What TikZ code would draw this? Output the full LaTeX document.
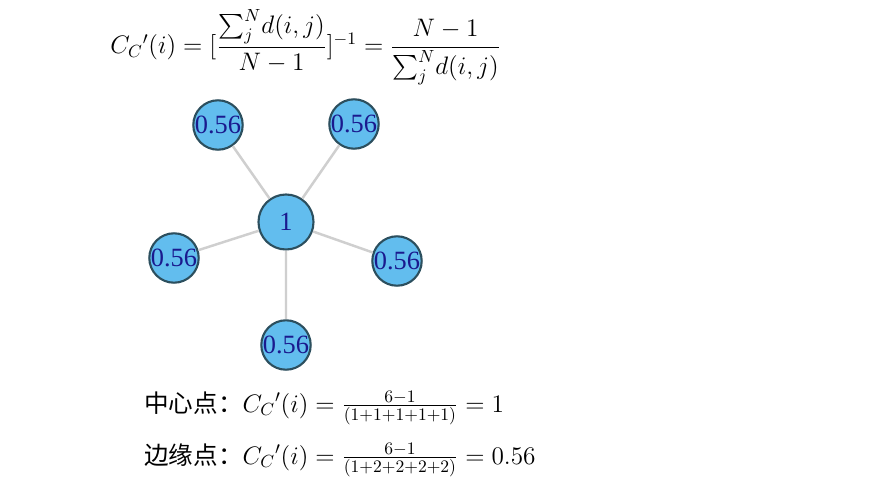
\documentclass[tikz,border=0pt]{standalone}
\usepackage{amsmath,amssymb}
\usepackage{fontspec}
\newfontfamily\cjk{Noto Sans CJK SC}
\newfontfamily\labelfont{Liberation Serif}
\usepackage{xcolor}
\definecolor{nodefill}{HTML}{62BDEE}
\definecolor{nodeline}{HTML}{2C4F5E}
\definecolor{nodetext}{HTML}{1A1A8E}
\definecolor{edgegray}{HTML}{CFCFCF}
\newlength{\unit}
\setlength{\unit}{0.02cm}
\tikzset{
  leaf/.style={circle,draw=nodeline,fill=nodefill,line width=1.2pt,minimum size=43\unit,inner sep=0pt,
    font=\labelfont\fontsize{15}{15}\selectfont,text=nodetext},
  hub/.style={leaf,minimum size=55\unit},
  link/.style={draw=edgegray,line width=1.4pt}
}
\begin{document}
\begin{tikzpicture}[x=0.02cm,y=-0.02cm]
\useasboundingbox[fill=white] (0,0) rectangle (875,493);
\node[anchor=west,inner sep=0pt,font=\fontsize{14}{17}\selectfont] at (110,47) (formula)
  {$C_C{}'(i)=[\dfrac{{\textstyle\sum_j^N} d(i,j)}{N-1}]^{-1}=\dfrac{N-1}{{\textstyle\sum_j^N} d(i,j)}$};
\node[hub] at (286,222) (h) {1};
\node[leaf] at (218,125) (a) {0.56};
\node[leaf] at (354,124) (b) {0.56};
\node[leaf] at (174,258) (c) {0.56};
\node[leaf] at (397,261) (d) {0.56};
\node[leaf] at (286,345) (e) {0.56};
\path[link] (h)--(a) (h)--(b) (h)--(c) (h)--(d) (h)--(e);
\node[anchor=west,font=\fontsize{14}{17}\selectfont] at (138,408) (center)
  {{\cjk 中心点：}$C_C{}'(i)=\tfrac{6-1}{(1+1+1+1+1)}=1$};
\node[anchor=west,font=\fontsize{14}{17}\selectfont] at (138,460) (edge)
  {{\cjk 边缘点：}$C_C{}'(i)=\tfrac{6-1}{(1+2+2+2+2)}=0.56$};
\end{tikzpicture}
\end{document}
